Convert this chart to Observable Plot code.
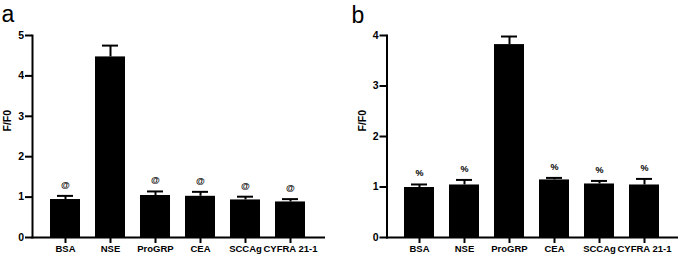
<!DOCTYPE html>
<html>
<head>
<meta charset="utf-8">
<script src="https://cdn.jsdelivr.net/npm/d3@7"></script>
<script src="https://cdn.jsdelivr.net/npm/@observablehq/plot@0.6"></script>
<style>
  html, body { margin: 0; padding: 0; background: #fff; }
  #wrap { display: flex; flex-direction: row; width: 678px; height: 256px; }
  svg { font-family: "Liberation Sans", Arial, sans-serif; }
</style>
</head>
<body>
<div id="wrap"></div>
<script>
const categories = ["BSA", "NSE", "ProGRP", "CEA", "SCCAg", "CYFRA 21-1"];

const meanA = [0.94, 4.47, 1.04, 1.02, 0.93, 0.88];
const errTopA = [1.03, 4.75, 1.14, 1.13, 1.01, 0.95];
const markA = ["@", "", "@", "@", "@", "@"];

const meanB = [0.99, 1.04, 3.82, 1.14, 1.06, 1.04];
const errTopB = [1.05, 1.14, 3.98, 1.18, 1.12, 1.16];
const markB = ["%", "%", "", "%", "%", "%"];

const yTicksA = [0, 1, 2, 3, 4, 5];
const yTicksB = [0, 1, 2, 3, 4];

function panel({letter, mean, errTop, marks, yTicks, yMax, marginLeft, marginRight, labelDx, letterX, letterBaseline}) {
  const data = categories.map((c, i) => ({cat: c, v: mean[i], e: errTop[i], m: marks[i]}));
  return Plot.plot({
    width: 339,
    height: 256,
    marginTop: 35,
    marginBottom: 19,
    marginLeft,
    marginRight,
    style: {fontFamily: "Liberation Sans, Arial, sans-serif", color: "#000", background: "#fff", overflow: "visible"},
    x: {domain: categories, paddingInner: 0.34, paddingOuter: 0.36},
    y: {domain: [0, yMax]},
    marks: [
      Plot.barY(data, {x: "cat", y: "v", fill: "#000"}),
      Plot.ruleX(data, {x: "cat", y1: "v", y2: "e", stroke: "#000", strokeWidth: 2}),
      Plot.tickY(data, {x: "cat", y: "e", stroke: "#000", strokeWidth: 2, insetLeft: 7, insetRight: 7}),
      Plot.text(data, {x: "cat", y: "e", text: "m", dy: -11, fontWeight: "bold", fontSize: 9, fill: "#000"}),
      Plot.frame({anchor: "left", stroke: "#000", strokeWidth: 2}),
      Plot.frame({anchor: "bottom", stroke: "#000", strokeWidth: 2}),
      Plot.axisY({ticks: yTicks, tickFormat: d3.format("d"), tickSize: 7, tickPadding: 1.5, strokeWidth: 2, fontWeight: "bold", fontSize: 10.5, label: null}),
      Plot.axisX({tickSize: 6, tickPadding: 2, strokeWidth: 2, fontWeight: "bold", fontSize: 9.5, label: null}),
      Plot.text(["F/F0"], {frameAnchor: "left", text: d => d, rotate: -90, dx: labelDx, dy: -5, fontWeight: "bold", fontSize: 10.5, fill: "#000"}),
      Plot.text([letter], {frameAnchor: "top-left", text: d => d, dx: -marginLeft + letterX, dy: letterBaseline - 35, fontSize: 23, fill: "#000", textAnchor: "start", lineAnchor: "bottom"})
    ]
  });
}

const wrap = document.getElementById("wrap");
wrap.appendChild(panel({letter: "a", mean: meanA, errTop: errTopA, marks: markA, yTicks: yTicksA, yMax: 5, marginLeft: 32, marginRight: 15.5, labelDx: -25, letterX: 1, letterBaseline: 21}));
wrap.appendChild(panel({letter: "b", mean: meanB, errTop: errTopB, marks: markB, yTicks: yTicksB, yMax: 4, marginLeft: 47.5, marginRight: 1, labelDx: -24.5, letterX: 12, letterBaseline: 22.5}));
</script>
</body>
</html>
